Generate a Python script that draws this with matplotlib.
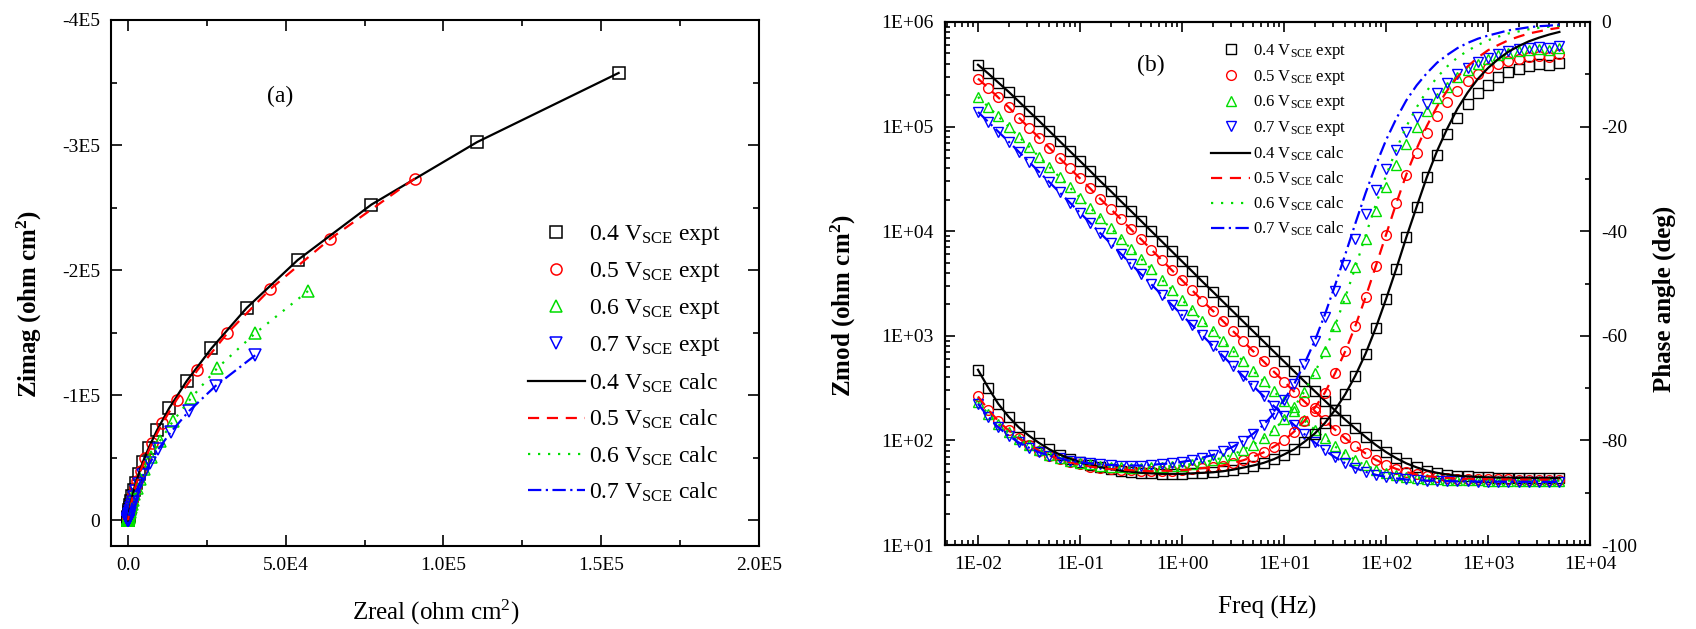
import numpy as np
import matplotlib

matplotlib.use("Agg")

import matplotlib.pyplot as plt
from matplotlib.ticker import MultipleLocator, LogLocator, NullFormatter

plt.rcParams["font.family"] = ["Liberation Serif", "DejaVu Serif"]
plt.rcParams["mathtext.fontset"] = "custom"
plt.rcParams["mathtext.rm"] = "Liberation Serif"
plt.rcParams["mathtext.it"] = "Liberation Serif:italic"
plt.rcParams["mathtext.bf"] = "Liberation Serif:bold"

# measured frequencies (Hz), 10 points per decade
freq = [0.01, 0.0126, 0.0158, 0.02, 0.0251, 0.0316, 0.0398, 0.0501, 0.0631, 0.0794,
        0.1, 0.126, 0.158, 0.2, 0.251, 0.316, 0.398, 0.501, 0.631, 0.794,
        1.0, 1.26, 1.58, 2.0, 2.51, 3.16, 3.98, 5.01, 6.31, 7.94,
        10, 12.6, 15.8, 20, 25.1, 31.6, 39.8, 50.1, 63.1, 79.4,
        100, 126, 158, 200, 251, 316, 398, 501, 631, 794,
        1000, 1260, 1580, 2000, 2510, 3160, 3980, 5010]

potentials = ["0.4", "0.5", "0.6", "0.7"]

# |Z| (ohm cm2)
zmod_04 = [3.90e5, 3.22e5, 2.64e5, 2.15e5, 1.74e5, 1.40e5, 1.13e5, 9.06e4, 7.27e4, 5.84e4,
           4.69e4, 3.76e4, 3.01e4, 2.42e4, 1.94e4, 1.56e4, 1.25e4, 1.00e4, 8.02e3, 6.43e3,
           5.15e3, 4.13e3, 3.31e3, 2.65e3, 2.13e3, 1.71e3, 1.37e3, 1.10e3, 883, 708,
           569, 457, 368, 296, 240, 194, 158, 130, 108, 90.5,
           77.4, 67.6, 60.4, 55.2, 51.5, 49.0, 47.2, 46.0, 45.2, 44.7,
           44.3, 44.1, 43.9, 43.8, 43.7, 43.6, 43.6, 43.6]
zmod_05 = [2.88e5, 2.34e5, 1.90e5, 1.53e5, 1.22e5, 9.76e4, 7.82e4, 6.26e4, 5.00e4, 4.00e4,
           3.20e4, 2.56e4, 2.04e4, 1.63e4, 1.31e4, 1.04e4, 8.34e3, 6.66e3, 5.32e3, 4.25e3,
           3.40e3, 2.72e3, 2.17e3, 1.74e3, 1.39e3, 1.11e3, 887, 709, 568, 455,
           365, 293, 236, 191, 155, 127, 105, 87.9, 75.0, 65.4,
           58.4, 53.4, 49.8, 47.3, 45.6, 44.5, 43.7, 43.2, 42.9, 42.7,
           42.5, 42.4, 42.3, 42.2, 42.2, 42.15, 42.1, 42.1]
zmod_06 = [1.92e5, 1.55e5, 1.25e5, 1.00e5, 8.04e4, 6.43e4, 5.14e4, 4.11e4, 3.29e4, 2.62e4,
           2.09e4, 1.67e4, 1.34e4, 1.07e4, 8.51e3, 6.79e3, 5.42e3, 4.33e3, 3.45e3, 2.76e3,
           2.20e3, 1.76e3, 1.40e3, 1.12e3, 895, 715, 572, 458, 367, 294,
           237, 191, 155, 127, 105, 87.5, 74.5, 64.9, 57.7, 52.6,
           49.0, 46.5, 44.8, 43.6, 42.8, 42.3, 41.9, 41.7, 41.5, 41.4,
           41.3, 41.25, 41.2, 41.15, 41.1, 41.1, 41.1, 41.1]
zmod_07 = [1.38e5, 1.11e5, 8.95e4, 7.18e4, 5.75e4, 4.61e4, 3.68e4, 2.94e4, 2.35e4, 1.88e4,
           1.50e4, 1.20e4, 9.57e3, 7.64e3, 6.10e3, 4.86e3, 3.88e3, 3.10e3, 2.47e3, 1.98e3,
           1.58e3, 1.26e3, 1.01e3, 804, 643, 514, 411, 330, 265, 213,
           172, 140, 115, 95.5, 80.4, 69.0, 60.6, 54.4, 50.0, 46.9,
           44.7, 43.3, 42.3, 41.7, 41.3, 41.0, 40.8, 40.6, 40.5, 40.4,
           40.3, 40.3, 40.2, 40.2, 40.2, 40.1, 40.1, 40.1]

# phase angle (deg), measured
phase_04_expt = [-66.5, -69.9, -73.0, -75.5, -77.5, -79.1, -80.5, -81.7, -82.7, -83.5,
                 -84.2, -84.7, -85.1, -85.5, -85.8, -86.0, -86.2, -86.3, -86.4, -86.4,
                 -86.4, -86.3, -86.2, -86.1, -85.9, -85.6, -85.2, -84.8, -84.3, -83.6,
                 -82.7, -81.7, -80.3, -78.7, -76.7, -74.2, -71.2, -67.6, -63.4, -58.5,
                 -53.0, -47.2, -41.2, -35.3, -29.7, -25.5, -21.5, -18.3, -15.7, -13.6,
                 -12.0, -10.6, -9.6, -8.9, -8.4, -8.1, -8.3, -7.8]
phase_05_expt = [-71.6, -74.1, -76.3, -78.1, -79.6, -80.9, -82.0, -82.9, -83.6, -84.2,
                 -84.6, -85.0, -85.3, -85.5, -85.6, -85.7, -85.8, -85.9, -85.8, -85.8,
                 -85.7, -85.5, -85.3, -85.1, -84.8, -84.3, -83.8, -83.1, -82.3, -81.2,
                 -80.0, -78.3, -76.3, -73.8, -70.9, -67.2, -63.0, -58.1, -52.6, -46.7,
                 -40.7, -34.7, -29.2, -25.0, -21.2, -18.0, -15.3, -13.1, -11.3, -9.9,
                 -8.8, -8.0, -7.4, -7.0, -6.7, -6.5, -6.7, -6.2]
phase_06_expt = [-72.7, -74.9, -76.9, -78.4, -79.8, -80.9, -81.9, -82.7, -83.4, -83.9,
                 -84.3, -84.6, -84.8, -85.0, -85.1, -85.2, -85.2, -85.1, -85.1, -84.9,
                 -84.8, -84.5, -84.2, -83.8, -83.3, -82.7, -81.8, -80.8, -79.6, -78.0,
                 -76.0, -73.6, -70.7, -67.1, -63.0, -58.1, -52.7, -46.9, -41.5, -36.2,
                 -31.6, -27.3, -23.4, -20.0, -17.0, -14.5, -12.4, -10.6, -9.2, -8.0,
                 -7.1, -6.4, -5.9, -5.5, -5.3, -5.1, -5.4, -5.0]
phase_07_expt = [-73.0, -75.5, -77.5, -79.1, -80.4, -81.4, -82.3, -82.9, -83.4, -83.9,
                 -84.2, -84.4, -84.6, -84.7, -84.8, -84.8, -84.8, -84.7, -84.5, -84.4,
                 -84.1, -83.8, -83.3, -82.8, -82.1, -81.2, -80.1, -78.7, -77.0, -74.9,
                 -72.3, -69.2, -65.4, -61.0, -56.5, -51.5, -46.5, -41.5, -36.7, -32.2,
                 -28.1, -24.4, -21.1, -18.2, -15.7, -13.5, -11.6, -10.0, -8.7, -7.6,
                 -6.8, -6.1, -5.6, -5.2, -4.9, -4.7, -5.0, -4.6]

# phase angle (deg), fitted
phase_04_calc = [-66.5, -69.9, -73.0, -75.5, -77.5, -79.1, -80.5, -81.7, -82.7, -83.5,
                 -84.2, -84.7, -85.1, -85.5, -85.8, -86.0, -86.2, -86.3, -86.4, -86.4,
                 -86.4, -86.3, -86.2, -86.1, -85.9, -85.6, -85.2, -84.8, -84.3, -83.6,
                 -82.7, -81.7, -80.3, -78.7, -76.7, -74.2, -71.2, -67.6, -63.4, -58.5,
                 -53.0, -47.2, -41.2, -35.3, -29.7, -24.7, -20.4, -16.6, -13.5, -10.9,
                 -8.8, -7.1, -5.7, -4.6, -3.7, -3.0, -2.4, -1.9]
phase_05_calc = [-71.6, -74.1, -76.3, -78.1, -79.6, -80.9, -82.0, -82.9, -83.6, -84.2,
                 -84.6, -85.0, -85.3, -85.5, -85.6, -85.7, -85.8, -85.9, -85.8, -85.8,
                 -85.7, -85.5, -85.3, -85.1, -84.8, -84.3, -83.8, -83.1, -82.3, -81.2,
                 -80.0, -78.3, -76.3, -73.8, -70.9, -67.2, -63.0, -58.1, -52.6, -46.7,
                 -40.7, -34.7, -29.2, -24.2, -19.9, -16.2, -13.1, -10.5, -8.5, -6.8,
                 -5.4, -4.4, -3.5, -2.8, -2.2, -1.8, -1.4, -1.1]
phase_06_calc = [-72.7, -74.9, -76.9, -78.4, -79.8, -80.9, -81.9, -82.7, -83.4, -83.9,
                 -84.3, -84.6, -84.8, -85.0, -85.1, -85.2, -85.2, -85.1, -85.1, -84.9,
                 -84.8, -84.5, -84.2, -83.8, -83.3, -82.7, -81.8, -80.8, -79.6, -78.0,
                 -76.0, -73.6, -70.7, -67.1, -63.0, -58.1, -52.7, -46.9, -40.8, -34.9,
                 -29.4, -24.4, -20.0, -16.3, -13.2, -10.6, -8.5, -6.8, -5.5, -4.4,
                 -3.5, -2.8, -2.2, -1.8, -1.4, -1.1, -0.9, -0.7]
phase_07_calc = [-73.0, -75.5, -77.5, -79.1, -80.4, -81.4, -82.3, -82.9, -83.4, -83.9,
                 -84.2, -84.4, -84.6, -84.7, -84.8, -84.8, -84.8, -84.7, -84.5, -84.4,
                 -84.1, -83.8, -83.3, -82.8, -82.1, -81.2, -80.1, -78.7, -77.0, -74.9,
                 -72.3, -69.2, -65.4, -61.0, -56.0, -50.4, -44.5, -38.5, -32.7, -27.4,
                 -22.6, -18.5, -15.0, -12.1, -9.8, -7.8, -6.3, -5.0, -4.0, -3.2,
                 -2.6, -2.1, -1.6, -1.3, -1.0, -0.8, -0.7, -0.5]

zmods = [zmod_04, zmod_05, zmod_06, zmod_07]
phases_expt = [phase_04_expt, phase_05_expt, phase_06_expt, phase_07_expt]
phases_calc = [phase_04_calc, phase_05_calc, phase_06_calc, phase_07_calc]

colors = ["black", "#ff0000", "#00dd00", "#0000ff"]
markers = ["s", "o", "^", "v"]
dashes = [None, (5, 3.5), (1, 3.5), (6, 2, 1, 2)]

W, H = 1696, 629
fig = plt.figure(figsize=(W / 100, H / 100), dpi=100)

ax1 = fig.add_axes([111 / W, 1 - 546 / H, 648 / W, 526 / H])
ax2 = fig.add_axes([945 / W, 1 - 545 / H, 645 / W, 523 / H])
ax3 = ax2.twinx()


def vlabel(p, kind):
    return p + r" V$_{\rm SCE}$ " + kind


# ---- (a) Nyquist ----
for i in range(4):
    mod = np.array(zmods[i])
    ph = np.radians(phases_expt[i])
    ax1.plot(mod * np.cos(ph), mod * np.sin(ph), ls="none", marker=markers[i],
             mfc="none", mec=colors[i], ms=8, mew=1.1, label=vlabel(potentials[i], "expt"))
for i in range(4):
    mod = np.array(zmods[i])
    ph = np.radians(phases_calc[i])
    line, = ax1.plot(mod * np.cos(ph), mod * np.sin(ph), color=colors[i], lw=1.6,
                     label=vlabel(potentials[i], "calc"))
    if dashes[i]:
        line.set_dashes(dashes[i])

ax1.set_xlim(-5350, 2.0e5)
ax1.set_ylim(2.05e4, -4.0e5)
ax1.set_xticks([0, 5e4, 1e5, 1.5e5, 2e5])
ax1.set_xticklabels(["0.0", "5.0E4", "1.0E5", "1.5E5", "2.0E5"])
ax1.set_yticks([0, -1e5, -2e5, -3e5, -4e5])
ax1.set_yticklabels(["0", "-1E5", "-2E5", "-3E5", "-4E5"])
ax1.xaxis.set_minor_locator(MultipleLocator(2.5e4))
ax1.yaxis.set_minor_locator(MultipleLocator(5e4))
ax1.tick_params(which="both", direction="in", top=True, right=True, labelsize=14, pad=8, width=1.2)
ax1.tick_params(which="major", length=8)
ax1.tick_params(which="minor", length=4)
ax1.set_xlabel(r"Zreal (ohm cm$^2$)", fontsize=18, va="center")
ax1.xaxis.set_label_coords(0.5015, -0.1255)
ax1.set_ylabel(r"Zimag (ohm cm$^{\mathbf{2}}$)", fontsize=18, fontweight="bold", va="center")
ax1.yaxis.set_label_coords(-0.1265, 0.46)
ax1.text(0.261, 0.8555, "(a)", transform=ax1.transAxes, fontsize=17, ha="center", va="center")
ax1.legend(loc="upper left", bbox_to_anchor=(528 / W, 1 - 223 / H), bbox_transform=fig.transFigure,
           frameon=False, fontsize=17, borderpad=0, borderaxespad=0, handlelength=2.4,
           handletextpad=0.2, labelspacing=0.555, numpoints=1)

# ---- (b) Bode ----
handles = []
for i in range(4):
    h, = ax2.plot(freq, zmods[i], ls="none", marker=markers[i], mfc="none", mec=colors[i],
                  ms=7, mew=1.0, label=vlabel(potentials[i], "expt"))
    ax3.plot(freq, phases_expt[i], ls="none", marker=markers[i], mfc="none", mec=colors[i],
             ms=7, mew=1.0)
    handles.append(h)
for i in range(4):
    h, = ax2.plot(freq, zmods[i], color=colors[i], lw=1.6, label=vlabel(potentials[i], "calc"))
    l3, = ax3.plot(freq, phases_calc[i], color=colors[i], lw=1.6)
    if dashes[i]:
        h.set_dashes(dashes[i])
        l3.set_dashes(dashes[i])
    handles.append(h)

ax2.set_xscale("log")
ax2.set_yscale("log")
ax2.set_xlim(0.00475, 1e4)
ax2.set_ylim(10, 1e6)
ax2.set_xticks([1e-2, 1e-1, 1, 10, 100, 1e3, 1e4])
ax2.set_xticklabels(["1E-02", "1E-01", "1E+00", "1E+01", "1E+02", "1E+03", "1E+04"])
ax2.set_yticks([10, 100, 1e3, 1e4, 1e5, 1e6])
ax2.set_yticklabels(["1E+01", "1E+02", "1E+03", "1E+04", "1E+05", "1E+06"])
ax2.xaxis.set_minor_locator(LogLocator(base=10, subs=range(2, 10), numticks=20))
ax2.yaxis.set_minor_locator(LogLocator(base=10, subs=range(2, 10), numticks=20))
ax2.xaxis.set_minor_formatter(NullFormatter())
ax2.yaxis.set_minor_formatter(NullFormatter())
ax2.tick_params(which="both", direction="in", top=True, right=False, labelsize=14, pad=8, width=1.2)
ax2.tick_params(which="major", length=7)
ax2.tick_params(which="minor", length=3.5)

ax3.set_ylim(-100, 0)
ax3.set_yticks([-100, -80, -60, -40, -20, 0])
ax3.set_yticklabels(["-100", "-80", "-60", "-40", "-20", "0"])
ax3.yaxis.set_minor_locator(MultipleLocator(10))
ax3.tick_params(which="both", direction="in", labelsize=14, pad=8, width=1.2)
ax3.tick_params(which="major", length=7)
ax3.tick_params(which="minor", length=3.5)

ax2.set_xlabel("Freq (Hz)", fontsize=18, va="center")
ax2.xaxis.set_label_coords(0.5, -0.12)
ax2.set_ylabel(r"Zmod (ohm cm$^{\mathbf{2}}$)", fontsize=18, fontweight="bold", va="center")
ax2.yaxis.set_label_coords(-0.157, 0.457)
ax3.set_ylabel("Phase angle (deg)", fontsize=18, fontweight="bold", va="center")
ax3.yaxis.set_label_coords(1.1155, 0.471)
ax3.text(0.319, 0.916, "(b)", transform=ax3.transAxes, fontsize=17, ha="center", va="center")
ax3.legend(handles, [h.get_label() for h in handles], loc="upper left",
           bbox_to_anchor=(1211 / W, 1 - 42 / H), bbox_transform=fig.transFigure,
           frameon=False, fontsize=12, borderpad=0, borderaxespad=0, handlelength=2.35,
           handletextpad=0.15, labelspacing=0.40, numpoints=1)

for ax in (ax1, ax2, ax3):
    for sp in ax.spines.values():
        sp.set_linewidth(1.5)

fig.savefig("out.png", dpi=100)
